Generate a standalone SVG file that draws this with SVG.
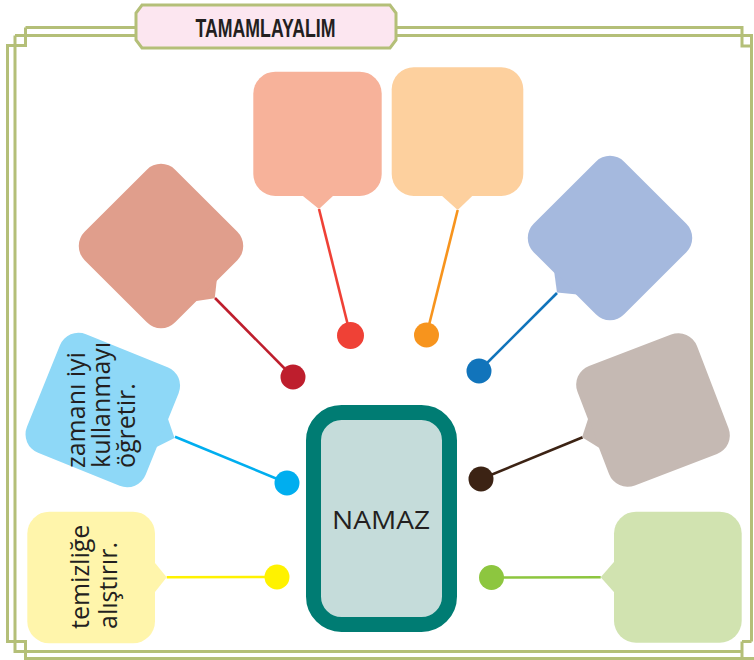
<svg xmlns="http://www.w3.org/2000/svg" width="754" height="660" viewBox="0 0 754 660">
  <style>
    .frame { fill: none; stroke: #b4bf78; stroke-width: 3; }
    .conn { fill: none; stroke-width: 2.6; }
    .lbl { font-family: "Open Sans", "Liberation Sans", sans-serif; fill: #231f20; }
  </style>
  <rect width="754" height="660" fill="#ffffff"/>
  <g id="frame">
    <path class="frame" d="M25.5 27.5 H742 V46 H751.5 M15 35.5 H751.5 V641.5 M25.5 27.5 V45.5 H7.5 V641.5 H25.5 V658.5 H754 M15 35.5 V651.5 H742 M742 641.5 H751.5 M742 641.5 V660"/>
  </g>
  <g id="title">
    <polygon points="142,5 390,5 396,13 396,40 390,48 142,48 136,40 136,13" fill="#fce6f0" stroke="#b4bf78" stroke-width="3"/>
    <text x="265.5" y="37" text-anchor="middle" font-family="'Liberation Sans', Arial, sans-serif" font-weight="bold" font-size="26" fill="#231f20" textLength="140" lengthAdjust="spacingAndGlyphs">TAMAMLAYALIM</text>
  </g>
  <g id="connectors">
    <line class="conn" stroke="#be1e2d" x1="215" y1="298" x2="293" y2="377"/>
    <circle cx="293" cy="377" r="12.5" fill="#be1e2d"/>
    <line class="conn" stroke="#ef4136" x1="319" y1="209" x2="350.5" y2="335.5"/>
    <circle cx="350.5" cy="335.5" r="13.5" fill="#ef4136"/>
    <line class="conn" stroke="#f7941d" x1="457.7" y1="210" x2="426.5" y2="335"/>
    <circle cx="426.5" cy="335" r="12.5" fill="#f7941d"/>
    <line class="conn" stroke="#1174bb" x1="557" y1="293" x2="479" y2="371"/>
    <circle cx="479" cy="371" r="12.5" fill="#1174bb"/>
    <line class="conn" stroke="#3c2314" x1="582.7" y1="437.3" x2="481" y2="479"/>
    <circle cx="481" cy="479" r="12.5" fill="#3c2314"/>
    <line class="conn" stroke="#8dc63f" x1="600.7" y1="577.3" x2="491.5" y2="577.5"/>
    <circle cx="491.5" cy="577.5" r="12.5" fill="#8dc63f"/>
    <line class="conn" stroke="#00aeef" x1="175" y1="436.7" x2="287" y2="483"/>
    <circle cx="287" cy="483" r="12.5" fill="#00aeef"/>
    <line class="conn" stroke="#fff200" x1="166.7" y1="577.3" x2="277" y2="577"/>
    <circle cx="277" cy="577" r="12.5" fill="#fff200"/>
  </g>
  <g id="namaz">
    <rect x="313.5" y="412.5" width="136" height="212" rx="28" fill="#c5dcda" stroke="#007c73" stroke-width="15"/>
    <text class="lbl" x="381" y="528.5" text-anchor="middle" font-size="26" textLength="98" lengthAdjust="spacingAndGlyphs">NAMAZ</text>
  </g>
  <g id="node-darksalmon" fill="#e09e8c" transform="translate(161,246) rotate(45)">
    <rect x="-64" y="-64" width="128" height="128" rx="20"/>
    <polygon points="63,-16 75,-1 63,15"/>
  </g>
  <g id="node-salmon" fill="#f7b29a">
    <rect x="253.3" y="71.7" width="128.4" height="124.3" rx="22"/>
    <polygon points="301.7,195 319,209 334,195"/>
  </g>
  <g id="node-peach" fill="#fdd09e">
    <rect x="391.7" y="67.3" width="131.6" height="128.7" rx="22"/>
    <polygon points="441,195 457.7,210 473.3,195"/>
  </g>
  <g id="node-lavender" fill="#a5b9de" transform="translate(610,238) rotate(45)">
    <rect x="-64" y="-64" width="128" height="128" rx="20"/>
    <polygon points="-16,63 1,76 17,63"/>
  </g>
  <g id="node-taupe" fill="#c5b9b3" transform="translate(653,410) rotate(-21)">
    <rect x="-64" y="-64" width="128" height="128" rx="20"/>
    <polygon points="-63,-16 -76,0 -63,17"/>
  </g>
  <g id="node-green" fill="#d1e3b0">
    <rect x="614" y="511.7" width="127.7" height="131" rx="22"/>
    <polygon points="615,560.7 600.7,577.3 615,593.3"/>
  </g>
  <g id="node-lightblue">
    <g fill="#8ed8f7" transform="translate(102.8,410) rotate(22)">
      <rect x="-64" y="-64" width="128" height="128" rx="20"/>
      <polygon points="63,-17 77,-1 63,15"/>
    </g>
    <text class="lbl" font-size="25" transform="translate(85,468) rotate(-90)">
      <tspan x="0" y="0">zamanı iyi</tspan>
      <tspan x="0" y="25">kullanmayı</tspan>
      <tspan x="0" y="50">öğretir.</tspan>
    </text>
  </g>
  <g id="node-yellow">
    <rect x="27.3" y="511.7" width="127.7" height="131.6" rx="22" fill="#fff5ab"/>
    <polygon points="154,561.7 166.7,577.3 154,593.3" fill="#fff5ab"/>
    <text class="lbl" font-size="25" transform="translate(88.5,629) rotate(-90)">
      <tspan x="0" y="0">temizliğe</tspan>
      <tspan x="0" y="28">alıştırır.</tspan>
    </text>
  </g>
</svg>
